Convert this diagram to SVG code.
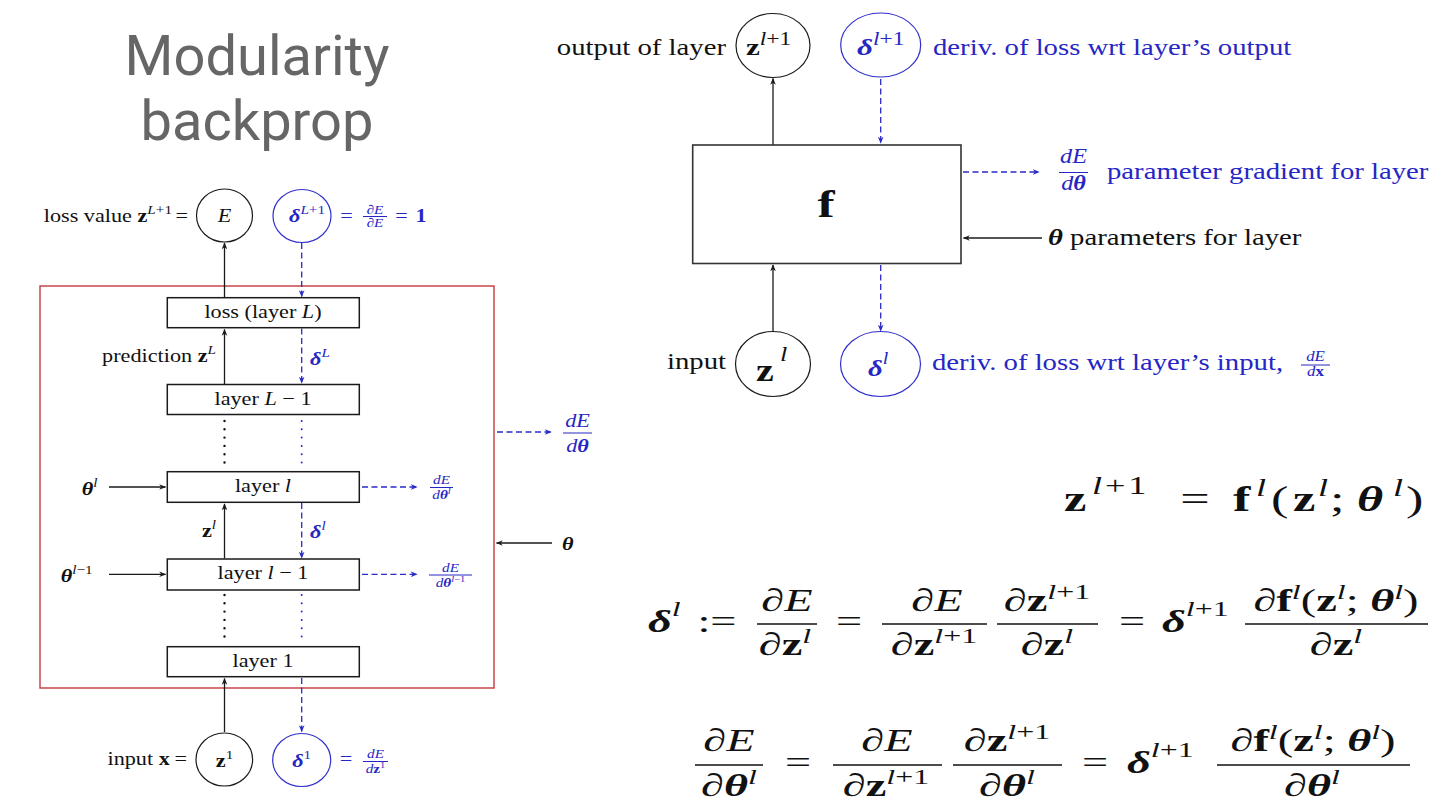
<svg xmlns="http://www.w3.org/2000/svg" width="1440" height="810" viewBox="0 0 1440 810">
<defs>
<style>
.t{font-family:"Liberation Serif","Times New Roman",serif;fill:#111}
.L{font-size:19px}
.R{font-size:23px}
.E{font-size:32px}
.blue{fill:#2626c4}
.b{font-weight:bold}
.i{font-style:italic}
.bi{font-weight:bold;font-style:italic}
.ln{stroke:#1a1a1a;stroke-width:1.3;fill:none}
.bd{stroke:#2a2ac8;stroke-width:1.3;fill:none;stroke-dasharray:6 3.5}
.dotk{stroke:#111;stroke-width:2.4;stroke-linecap:round;stroke-dasharray:0 8.3;fill:none}
.dotb{stroke:#2a2ac8;stroke-width:2;stroke-linecap:round;stroke-dasharray:0 8.3;fill:none}
.box{fill:#fff;stroke:#1a1a1a;stroke-width:1.5}
.ck{fill:none;stroke:#1a1a1a;stroke-width:1.2}
.cb{fill:none;stroke:#3030cc;stroke-width:1.2}
.barb{stroke:#2626c4;stroke-width:1}
.bark{stroke:#111;stroke-width:1.3}
.title{font-family:Roboto,"Liberation Sans",sans-serif;font-size:56px;fill:#666}
</style>
<marker id="ak" viewBox="0 0 10 10" refX="9" refY="5" markerWidth="7" markerHeight="7" orient="auto" markerUnits="userSpaceOnUse"><path d="M0,1 L10,5 L0,9 L3,5 z" fill="#1a1a1a"/></marker>
<marker id="ab" viewBox="0 0 10 10" refX="9" refY="5" markerWidth="7" markerHeight="7" orient="auto" markerUnits="userSpaceOnUse"><path d="M0,1 L10,5 L0,9 L3,5 z" fill="#2a2ac8"/></marker>
</defs>
<rect width="1440" height="810" fill="#fff"/>

<g id="title">
<text class="title" x="257" y="75" text-anchor="middle">Modularity</text>
<text class="title" x="257" y="140" text-anchor="middle">backprop</text>
</g>

<!-- LEFT DIAGRAM -->
<g id="network-frame"><rect x="40" y="286" width="454" height="402" fill="none" stroke="#c8454a" stroke-width="1.5"/></g>

<g id="connectors">
<line class="ln" x1="224.5" y1="297.7" x2="224.5" y2="243" marker-end="url(#ak)"/>
<line class="bd" x1="301.7" y1="243" x2="301.7" y2="296.5" marker-end="url(#ab)"/>
<line class="ln" x1="224.5" y1="384" x2="224.5" y2="329.5" marker-end="url(#ak)"/>
<line class="bd" x1="301.7" y1="328.5" x2="301.7" y2="383" marker-end="url(#ab)"/>
<line class="dotk" x1="224.5" y1="421" x2="224.5" y2="468"/>
<line class="dotb" x1="301.7" y1="421" x2="301.7" y2="468"/>
<line class="ln" x1="109" y1="487" x2="165.5" y2="487" marker-end="url(#ak)"/>
<line class="bd" x1="362" y1="487" x2="417" y2="487" marker-end="url(#ab)"/>
<line class="ln" x1="224.5" y1="558.5" x2="224.5" y2="504" marker-end="url(#ak)"/>
<line class="bd" x1="301.7" y1="503" x2="301.7" y2="558" marker-end="url(#ab)"/>
<line class="ln" x1="109" y1="574.3" x2="165.5" y2="574.3" marker-end="url(#ak)"/>
<line class="bd" x1="362" y1="574.3" x2="417" y2="574.3" marker-end="url(#ab)"/>
<line class="dotk" x1="224.5" y1="595" x2="224.5" y2="643"/>
<line class="dotb" x1="301.7" y1="595" x2="301.7" y2="641"/>
<line class="ln" x1="224.5" y1="732" x2="224.5" y2="678.5" marker-end="url(#ak)"/>
<line class="bd" x1="301.7" y1="678" x2="301.7" y2="731.5" marker-end="url(#ab)"/>
<line class="bd" x1="497" y1="432" x2="551" y2="432" marker-end="url(#ab)"/>
<line class="ln" x1="552" y1="543" x2="496.5" y2="543" marker-end="url(#ak)"/>
<!-- right diagram -->
<line class="ln" x1="773" y1="145" x2="773" y2="78.5" marker-end="url(#ak)"/>
<line class="bd" x1="880.7" y1="79" x2="880.7" y2="143" marker-end="url(#ab)"/>
<line class="bd" x1="963" y1="172" x2="1039" y2="172" marker-end="url(#ab)"/>
<line class="ln" x1="1042" y1="238" x2="963.5" y2="238" marker-end="url(#ak)"/>
<line class="ln" x1="773" y1="331.5" x2="773" y2="265" marker-end="url(#ak)"/>
<line class="bd" x1="880.7" y1="265" x2="880.7" y2="331" marker-end="url(#ab)"/>
</g>

<g id="loss-value">
<text class="t L" text-anchor="end" transform="translate(188,222) scale(1.17,1)">loss value <tspan class="b">z</tspan><tspan font-size="13" dy="-8"><tspan class="i">L</tspan>+1</tspan><tspan dy="8" dx="3">=</tspan></text>
</g>
<g id="node-E">
<ellipse class="ck" cx="224.5" cy="215.5" rx="28" ry="26.5"/>
<text class="t L i" text-anchor="middle" transform="translate(224.5,222) scale(1.17,1)">E</text>
</g>
<g id="node-deltaL1">
<ellipse class="cb" cx="302" cy="216" rx="29" ry="26.5"/>
<text class="t L blue" text-anchor="middle" transform="translate(307,222) scale(1.17,1)"><tspan class="bi">δ</tspan><tspan font-size="13" dy="-8"><tspan class="i">L</tspan>+1</tspan></text>
<text class="t L blue" text-anchor="middle" transform="translate(346.5,222) scale(1.17,1)">=</text>
<line class="barb" x1="363" y1="216.5" x2="387" y2="216.5"/>
<text class="t blue" font-size="13" text-anchor="middle" transform="translate(375,213.5) scale(1.17,1)">∂<tspan class="i">E</tspan></text>
<text class="t blue" font-size="13" text-anchor="middle" transform="translate(375,227) scale(1.17,1)">∂<tspan class="i">E</tspan></text>
<text class="t L blue" text-anchor="middle" transform="translate(401.5,222) scale(1.17,1)">=</text>
<text class="t L blue b" text-anchor="middle" transform="translate(421,222) scale(1.17,1)">1</text>
</g>

<g id="layer-L">
<rect class="box" x="167.3" y="297.7" width="192" height="30"/>
<text class="t L" text-anchor="middle" transform="translate(263,318) scale(1.17,1)">loss (layer <tspan class="i">L</tspan>)</text>
</g>
<g id="label-prediction">
<text class="t L" text-anchor="end" transform="translate(216,362) scale(1.17,1)">prediction <tspan class="b">z</tspan><tspan class="i" font-size="13" dy="-8">L</tspan></text>
</g>
<g id="label-deltaL">
<text class="t L blue" transform="translate(310,365) scale(1.17,1)"><tspan class="bi">δ</tspan><tspan class="i" font-size="13" dy="-8">L</tspan></text>
</g>
<g id="layer-Lm1">
<rect class="box" x="167.3" y="384.5" width="192" height="30"/>
<text class="t L" text-anchor="middle" transform="translate(263,405) scale(1.17,1)">layer <tspan class="i">L</tspan> − 1</text>
</g>
<g id="layer-l">
<rect class="box" x="167.3" y="471.7" width="192" height="30.6"/>
<text class="t L" text-anchor="middle" transform="translate(263,492) scale(1.17,1)">layer <tspan class="i">l</tspan></text>
</g>
<g id="label-theta-l">
<text class="t L" transform="translate(81.7,495) scale(1.17,1)"><tspan class="bi">θ</tspan><tspan class="i" font-size="13" dy="-8">l</tspan></text>
</g>
<g id="label-grad-l">
<line class="barb" x1="430" y1="487.5" x2="453" y2="487.5"/>
<text class="t blue i" font-size="13" text-anchor="middle" transform="translate(441.5,484) scale(1.17,1)">dE</text>
<text class="t blue" font-size="13" text-anchor="middle" transform="translate(441.5,499) scale(1.17,1)"><tspan class="i">d</tspan><tspan class="bi">θ</tspan><tspan class="i" font-size="9" dy="-5">l</tspan></text>
</g>
<g id="label-z-l">
<text class="t L" transform="translate(202,537) scale(1.17,1)"><tspan class="b">z</tspan><tspan class="i" font-size="13" dy="-8">l</tspan></text>
</g>
<g id="label-delta-l">
<text class="t L blue" transform="translate(310,538) scale(1.17,1)"><tspan class="bi">δ</tspan><tspan class="i" font-size="13" dy="-8">l</tspan></text>
</g>
<g id="layer-lm1">
<rect class="box" x="167.3" y="559" width="192" height="31"/>
<text class="t L" text-anchor="middle" transform="translate(263,579) scale(1.17,1)">layer <tspan class="i">l</tspan> − 1</text>
</g>
<g id="label-theta-lm1">
<text class="t L" transform="translate(60.7,582) scale(1.17,1)"><tspan class="bi">θ</tspan><tspan font-size="13" dy="-8"><tspan class="i">l</tspan>−1</tspan></text>
</g>
<g id="label-grad-lm1">
<line class="barb" x1="429" y1="575" x2="472" y2="575"/>
<text class="t blue i" font-size="13" text-anchor="middle" transform="translate(450.5,572) scale(1.17,1)">dE</text>
<text class="t blue" font-size="13" text-anchor="middle" transform="translate(450.5,587) scale(1.17,1)"><tspan class="i">d</tspan><tspan class="bi">θ</tspan><tspan font-size="9" dy="-5"><tspan class="i">l</tspan>−1</tspan></text>
</g>
<g id="layer-1">
<rect class="box" x="167.3" y="646.7" width="192" height="30"/>
<text class="t L" text-anchor="middle" transform="translate(263,666.5) scale(1.17,1)">layer 1</text>
</g>
<g id="label-grad-total">
<line class="barb" x1="563" y1="433" x2="592" y2="433"/>
<text class="t L blue i" text-anchor="middle" transform="translate(577.5,427) scale(1.17,1)">dE</text>
<text class="t L blue" text-anchor="middle" transform="translate(577.5,452) scale(1.17,1)"><tspan class="i">d</tspan><tspan class="bi">θ</tspan></text>
</g>
<g id="label-theta">
<text class="t L bi" transform="translate(562,550) scale(1.17,1)">θ</text>
</g>
<g id="label-input-x">
<text class="t L" text-anchor="end" transform="translate(187,765) scale(1.17,1)">input <tspan class="b">x</tspan><tspan dx="4">=</tspan></text>
</g>
<g id="node-z1">
<ellipse class="ck" cx="224.3" cy="759.5" rx="28.3" ry="26.5"/>
<text class="t L" text-anchor="middle" transform="translate(224.5,767) scale(1.17,1)"><tspan class="b">z</tspan><tspan font-size="13" dy="-8">1</tspan></text>
</g>
<g id="node-delta1">
<ellipse class="cb" cx="301.7" cy="760" rx="29" ry="26.5"/>
<text class="t L blue" text-anchor="middle" transform="translate(301.7,767) scale(1.17,1)"><tspan class="bi">δ</tspan><tspan font-size="13" dy="-8">1</tspan></text>
<text class="t L blue" text-anchor="middle" transform="translate(346,765) scale(1.17,1)">=</text>
<line class="barb" x1="363" y1="761.5" x2="388" y2="761.5"/>
<text class="t blue i" font-size="13" text-anchor="middle" transform="translate(375.5,758) scale(1.17,1)">dE</text>
<text class="t blue" font-size="13" text-anchor="middle" transform="translate(375.5,773) scale(1.17,1)"><tspan class="i">d</tspan><tspan class="b">z</tspan><tspan font-size="9" dy="-5">1</tspan></text>
</g>

<!-- RIGHT DIAGRAM -->
<g id="label-output">
<text class="t R" text-anchor="end" transform="translate(726,55) scale(1.25,1)">output of layer</text>
</g>
<g id="node-z-lp1">
<ellipse class="ck" cx="773" cy="45.5" rx="37" ry="32"/>
<text class="t" font-size="24" transform="translate(746,55) scale(1.3,1)"><tspan class="b">z</tspan><tspan font-size="18" dy="-10"><tspan class="i">l</tspan>+1</tspan></text>
</g>
<g id="node-delta-lp1">
<ellipse class="cb" cx="880.7" cy="45" rx="40" ry="32"/>
<text class="t blue" font-size="24" transform="translate(857,55) scale(1.3,1)"><tspan class="bi">δ</tspan><tspan font-size="18" dy="-10"><tspan class="i">l</tspan>+1</tspan></text>
</g>
<g id="label-out-deriv">
<text class="t R blue" transform="translate(933,55) scale(1.25,1)">deriv. of loss wrt layer’s output</text>
</g>
<g id="node-f">
<rect x="692.7" y="145" width="268.3" height="118.5" fill="#fff" stroke="#333" stroke-width="1.6"/>
<text class="t b" font-size="38" text-anchor="middle" transform="translate(826,217) scale(1.35,1)">f</text>
</g>
<g id="label-param-grad">
<line class="barb" x1="1059" y1="172.5" x2="1088" y2="172.5"/>
<text class="t blue i" font-size="22" text-anchor="middle" transform="translate(1073.5,163) scale(1.1,1)">dE</text>
<text class="t blue" font-size="22" text-anchor="middle" transform="translate(1073.5,190) scale(1.1,1)"><tspan class="i">d</tspan><tspan class="bi">θ</tspan></text>
<text class="t R blue" transform="translate(1107,179) scale(1.25,1)">parameter gradient for layer</text>
</g>
<g id="label-params">
<text class="t R" transform="translate(1048,245) scale(1.25,1)"><tspan class="bi">θ</tspan> parameters for layer</text>
</g>
<g id="label-input">
<text class="t R" text-anchor="end" transform="translate(726,369) scale(1.25,1)">input</text>
</g>
<g id="node-z-l">
<ellipse class="ck" cx="773" cy="364" rx="37.5" ry="32.5"/>
<text class="t b" font-size="32" transform="translate(756,381) scale(1.25,1)">z</text>
<text class="t i" font-size="21" transform="translate(780,361) scale(1.25,1)">l</text>
</g>
<g id="node-delta-l">
<ellipse class="cb" cx="880.5" cy="364" rx="40" ry="32.5"/>
<text class="t blue" font-size="23" transform="translate(868,376) scale(1.25,1)"><tspan class="bi">δ</tspan><tspan class="i" font-size="16" dy="-12">l</tspan></text>
</g>
<g id="label-in-deriv">
<text class="t R blue" transform="translate(932,370) scale(1.25,1)">deriv. of loss wrt layer’s input,</text>
<line class="barb" x1="1301" y1="365" x2="1330" y2="365"/>
<text class="t blue i" font-size="14" text-anchor="middle" transform="translate(1315.5,361) scale(1.2,1)">dE</text>
<text class="t blue" font-size="14" text-anchor="middle" transform="translate(1315.5,376) scale(1.2,1)"><tspan class="i">d</tspan><tspan class="b">x</tspan></text>
</g>

<!-- EQUATIONS -->
<g id="eq1">
<text class="t b" font-size="36" transform="translate(1064,511) scale(1.4,1)">z</text>
<text class="t" font-size="25" transform="translate(1092,494) scale(1.45,1)"><tspan class="i">l</tspan><tspan dx="2">+</tspan><tspan dx="2">1</tspan></text>
<text class="t" font-size="36" text-anchor="middle" transform="translate(1195,511) scale(1.45,1)">=</text>
<text class="t b" font-size="36" transform="translate(1233,511) scale(1.45,1)">f</text>
<text class="t i" font-size="25" transform="translate(1256,496) scale(1.45,1)">l</text>
<text class="t" font-size="36" transform="translate(1271,511) scale(1.45,1)">(</text>
<text class="t b" font-size="36" transform="translate(1293,511) scale(1.4,1)">z</text>
<text class="t i" font-size="25" transform="translate(1318,496) scale(1.45,1)">l</text>
<text class="t" font-size="36" transform="translate(1330,511) scale(1.45,1)">;</text>
<text class="t bi" font-size="36" transform="translate(1357,511) scale(1.4,1)">θ</text>
<text class="t i" font-size="25" transform="translate(1393,496) scale(1.45,1)">l</text>
<text class="t" font-size="36" transform="translate(1406,511) scale(1.45,1)">)</text>
</g>

<g id="eq2">
<text class="t E" transform="translate(648,632) scale(1.45,1)"><tspan class="bi">δ</tspan><tspan class="i" font-size="22" dy="-16">l</tspan></text>
<text class="t E" text-anchor="middle" transform="translate(717,632) scale(1.45,1)">:=</text>
<line class="bark" x1="757" y1="624" x2="817" y2="624"/>
<text class="t E" text-anchor="middle" transform="translate(787,611) scale(1.45,1)"><tspan class="i">∂E</tspan></text>
<text class="t E" text-anchor="middle" transform="translate(785,655) scale(1.45,1)"><tspan class="i">∂</tspan><tspan class="b">z</tspan><tspan class="i" font-size="22" dy="-12">l</tspan></text>
<text class="t E" text-anchor="middle" transform="translate(849,632) scale(1.45,1)">=</text>
<line class="bark" x1="882" y1="624" x2="987" y2="624"/>
<text class="t E" text-anchor="middle" transform="translate(937,611) scale(1.45,1)"><tspan class="i">∂E</tspan></text>
<text class="t E" text-anchor="middle" transform="translate(934,655) scale(1.45,1)"><tspan class="i">∂</tspan><tspan class="b">z</tspan><tspan font-size="22" dy="-12"><tspan class="i">l</tspan>+1</tspan></text>
<line class="bark" x1="997" y1="624" x2="1098" y2="624"/>
<text class="t E" text-anchor="middle" transform="translate(1047,611) scale(1.45,1)"><tspan class="i">∂</tspan><tspan class="b">z</tspan><tspan font-size="22" dy="-12"><tspan class="i">l</tspan>+1</tspan></text>
<text class="t E" text-anchor="middle" transform="translate(1047,655) scale(1.45,1)"><tspan class="i">∂</tspan><tspan class="b">z</tspan><tspan class="i" font-size="22" dy="-12">l</tspan></text>
<text class="t E" text-anchor="middle" transform="translate(1132,632) scale(1.45,1)">=</text>
<text class="t E" transform="translate(1162,632) scale(1.45,1)"><tspan class="bi">δ</tspan><tspan font-size="22" dy="-16"><tspan class="i">l</tspan>+1</tspan></text>
<line class="bark" x1="1245" y1="624" x2="1428" y2="624"/>
<text class="t E" text-anchor="middle" transform="translate(1336,611) scale(1.45,1)"><tspan class="i">∂</tspan><tspan class="b">f</tspan><tspan class="i" font-size="22" dy="-12">l</tspan><tspan dy="12">(</tspan><tspan class="b">z</tspan><tspan class="i" font-size="22" dy="-12">l</tspan><tspan dy="12">; </tspan><tspan class="bi">θ</tspan><tspan class="i" font-size="22" dy="-12">l</tspan><tspan dy="12">)</tspan></text>
<text class="t E" text-anchor="middle" transform="translate(1336,655) scale(1.45,1)"><tspan class="i">∂</tspan><tspan class="b">z</tspan><tspan class="i" font-size="22" dy="-12">l</tspan></text>
</g>

<g id="eq3">
<line class="bark" x1="695" y1="765" x2="763" y2="765"/>
<text class="t E" text-anchor="middle" transform="translate(729,751) scale(1.45,1)"><tspan class="i">∂E</tspan></text>
<text class="t E" text-anchor="middle" transform="translate(729,796) scale(1.45,1)"><tspan class="i">∂</tspan><tspan class="bi">θ</tspan><tspan class="i" font-size="22" dy="-12">l</tspan></text>
<text class="t E" text-anchor="middle" transform="translate(798,773) scale(1.45,1)">=</text>
<line class="bark" x1="833" y1="765" x2="942" y2="765"/>
<text class="t E" text-anchor="middle" transform="translate(887,751) scale(1.45,1)"><tspan class="i">∂E</tspan></text>
<text class="t E" text-anchor="middle" transform="translate(886,796) scale(1.45,1)"><tspan class="i">∂</tspan><tspan class="b">z</tspan><tspan font-size="22" dy="-12"><tspan class="i">l</tspan>+1</tspan></text>
<line class="bark" x1="953" y1="765" x2="1062" y2="765"/>
<text class="t E" text-anchor="middle" transform="translate(1007,751) scale(1.45,1)"><tspan class="i">∂</tspan><tspan class="b">z</tspan><tspan font-size="22" dy="-12"><tspan class="i">l</tspan>+1</tspan></text>
<text class="t E" text-anchor="middle" transform="translate(1007,796) scale(1.45,1)"><tspan class="i">∂</tspan><tspan class="bi">θ</tspan><tspan class="i" font-size="22" dy="-12">l</tspan></text>
<text class="t E" text-anchor="middle" transform="translate(1095,773) scale(1.45,1)">=</text>
<text class="t E" transform="translate(1127,773) scale(1.45,1)"><tspan class="bi">δ</tspan><tspan font-size="22" dy="-16"><tspan class="i">l</tspan>+1</tspan></text>
<line class="bark" x1="1217" y1="765" x2="1410" y2="765"/>
<text class="t E" text-anchor="middle" transform="translate(1313,751) scale(1.45,1)"><tspan class="i">∂</tspan><tspan class="b">f</tspan><tspan class="i" font-size="22" dy="-12">l</tspan><tspan dy="12">(</tspan><tspan class="b">z</tspan><tspan class="i" font-size="22" dy="-12">l</tspan><tspan dy="12">; </tspan><tspan class="bi">θ</tspan><tspan class="i" font-size="22" dy="-12">l</tspan><tspan dy="12">)</tspan></text>
<text class="t E" text-anchor="middle" transform="translate(1312,796) scale(1.45,1)"><tspan class="i">∂</tspan><tspan class="bi">θ</tspan><tspan class="i" font-size="22" dy="-12">l</tspan></text>
</g>
</svg>
